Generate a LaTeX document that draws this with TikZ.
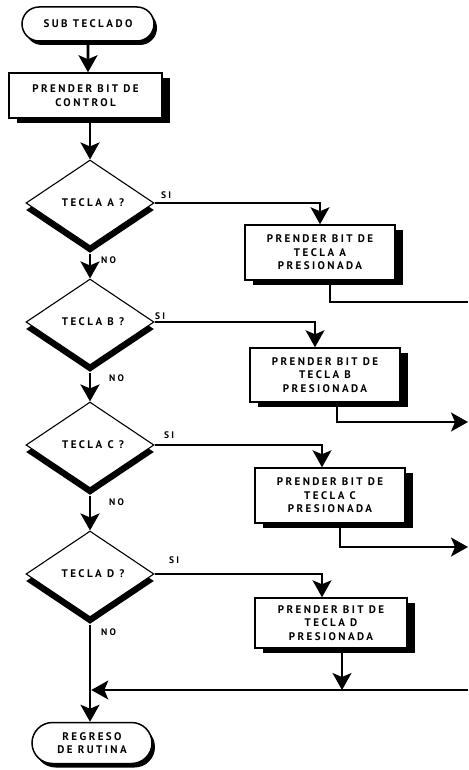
\documentclass[tikz,border=0pt]{standalone}
\usepackage{fontspec}
\setmainfont{PT Sans}
\newfontfamily\lblfont[LetterSpace=22]{PT Sans}
\usetikzlibrary{shapes.geometric,shapes.misc,shadows,arrows.meta}
\tikzset{
  >={Stealth[length=17pt,width=19pt,inset=4pt]},
  txt/.style={font=\lblfont\bfseries\fontsize{11}{13.5}\selectfont, align=center, inner sep=0pt},
  smalltxt/.style={font=\lblfont\bfseries\fontsize{9.5}{11}\selectfont, inner sep=0pt},
  termbox/.style={txt, draw, line width=1.5pt, fill=white, rounded rectangle,
    drop shadow={shadow xshift=3pt, shadow yshift=-4pt, fill=black, opacity=1}},
  procbox/.style={txt, draw, line width=1.5pt, fill=white, rectangle,
    drop shadow={shadow xshift=8pt, shadow yshift=-5pt, fill=black, opacity=1}},
  decbox/.style={txt, draw, line width=1.1pt, fill=white, diamond,
    minimum width=128pt, minimum height=86pt,
    drop shadow={shadow xshift=0pt, shadow yshift=-7pt, fill=black, opacity=1}},
  mainline/.style={line width=2.6pt},
  branch/.style={line width=1.5pt},
}
\begin{document}
\begin{tikzpicture}[x=1pt,y=-1pt]
\useasboundingbox[fill=white] (0,0) rectangle (468,770);

% main column
\node[termbox, minimum width=132pt, minimum height=34pt] (start) at (88,24) {SUB TECLADO};
\node[procbox, minimum width=153pt, minimum height=45pt] (ctrl) at (85.5,95.5) {PRENDER BIT DE\\CONTROL};
\node[decbox] (dA) at (90,203) {\hspace*{6pt}TECLA A ?};
\node[decbox] (dB) at (90,322) {\hspace*{6pt}TECLA B ?};
\node[decbox] (dC) at (90,445) {\hspace*{6pt}TECLA C ?};
\node[decbox] (dD) at (90,574) {\hspace*{6pt}TECLA D ?};
\node[termbox, minimum width=120pt, minimum height=41pt] (fin) at (92,743) {REGRESO\\DE RUTINA};

% right column
\node[procbox, minimum width=150pt, minimum height=55pt] (bA) at (320,252.5) {PRENDER BIT DE\\TECLA A\\PRESIONADA};
\node[procbox, minimum width=150pt, minimum height=54pt] (bB) at (325,375) {PRENDER BIT DE\\TECLA B\\PRESIONADA};
\node[procbox, minimum width=150pt, minimum height=55pt] (bC) at (330,495.5) {PRENDER BIT DE\\TECLA C\\PRESIONADA};
\node[procbox, minimum width=152pt, minimum height=50pt] (bD) at (331,623) {PRENDER BIT DE\\TECLA D\\PRESIONADA};

% helper coordinates
\coordinate (inA) at (320,0);
\coordinate (inB) at (315,0);
\coordinate (inC) at (322,0);
\coordinate (inD) at (322,0);
\coordinate (outA) at (330,0);
\coordinate (outB) at (337,0);
\coordinate (outC) at (340,0);
\coordinate (outD) at (342,0);
\coordinate (eA) at (468,302);
\coordinate (eB) at (468,422);
\coordinate (eC) at (468,547);
\coordinate (eD) at (468,690);

% main flow
\draw[mainline,->] (start) -- (start.south |- ctrl.north);
\draw[mainline,->] (ctrl.south -| dA.north) -- (dA.north);
\draw[mainline,->] ([yshift=-7pt]dA.south) -- (dB.north);
\draw[mainline,->] ([yshift=-7pt]dB.south) -- (dC.north);
\draw[mainline,->] ([yshift=-7pt]dC.south) -- (dD.north);
\draw[mainline,->] ([yshift=-7pt]dD.south) -- (fin.north -| dD.south);

% SI branches
\draw[branch,->] (dA.east) -| (bA.north -| inA);
\draw[branch,->] (dB.east) -| (bB.north -| inB);
\draw[branch,->] (dC.east) -| (bC.north -| inC);
\draw[branch,->] (dD.east) -| (bD.north -| inD);

% exits
\draw[branch] (bA.south -| outA) |- (eA);
\draw[branch,->] (bB.south -| outB) |- (eB);
\draw[branch,->] (bC.south -| outC) |- (eC);
\draw[branch,->] (bD.south -| outD) -- (eD -| outD);
\draw[branch,->,shorten >=1.3pt] (eD) -- (eD -| dD.south);

% labels
\node[smalltxt, anchor=west] (siA) at (161,195) {SI};
\node[smalltxt, anchor=west] (siB) at (155,316) {SI};
\node[smalltxt, anchor=west] (siC) at (164,435) {SI};
\node[smalltxt, anchor=west] (siD) at (169,560) {SI};
\node[smalltxt, anchor=west] (noA) at (101,260) {NO};
\node[smalltxt, anchor=west] (noB) at (109,378) {NO};
\node[smalltxt, anchor=west] (noC) at (109,502) {NO};
\node[smalltxt, anchor=west] (noD) at (101,632) {NO};
\end{tikzpicture}
\end{document}
